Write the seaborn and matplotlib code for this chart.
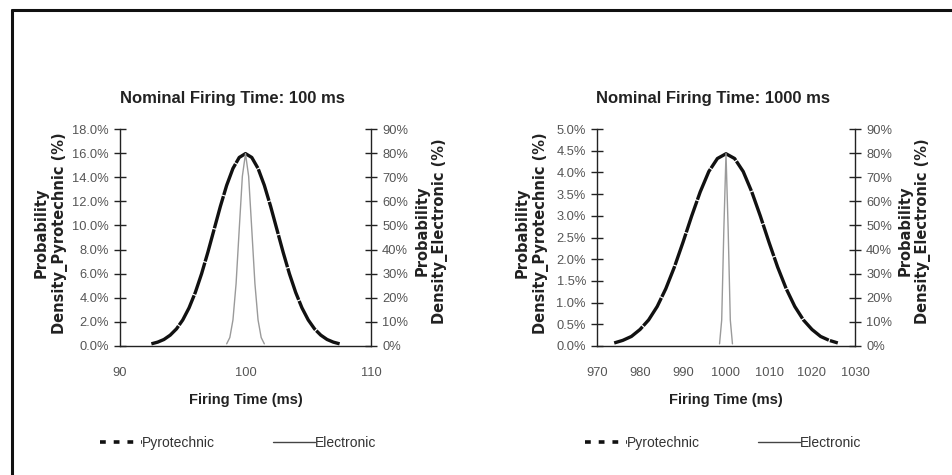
import matplotlib
matplotlib.use("Agg")
import matplotlib.pyplot as plt
from matplotlib.lines import Line2D
from matplotlib.ticker import FuncFormatter, FixedLocator
import seaborn as sns

# ---- data: probability density (%) versus firing time (ms) ----
pyro_100_ms = [92.5, 93.0, 93.5, 94.0, 94.5, 95.0, 95.5, 96.0, 96.5, 97.0, 97.5,
               98.0, 98.5, 99.0, 99.5, 100.0, 100.5, 101.0, 101.5, 102.0, 102.5,
               103.0, 103.5, 104.0, 104.5, 105.0, 105.5, 106.0, 106.5, 107.0, 107.5]
pyro_100_pct = [0.18, 0.32, 0.54, 0.90, 1.42, 2.16, 3.16, 4.44, 5.99, 7.77, 9.68,
                11.59, 13.33, 14.73, 15.64, 15.96, 15.64, 14.73, 13.33, 11.59, 9.68,
                7.77, 5.99, 4.44, 3.16, 2.16, 1.42, 0.90, 0.54, 0.32, 0.18]
elec_100_ms = [98.5, 98.75, 99.0, 99.25, 99.5, 99.75, 100.0,
               100.25, 100.5, 100.75, 101.0, 101.25, 101.5]
elec_100_pct = [0.9, 3.5, 10.8, 25.9, 48.4, 70.4, 79.8,
                70.4, 48.4, 25.9, 10.8, 3.5, 0.9]

pyro_1000_ms = [974, 976, 978, 980, 982, 984, 986, 988, 990, 992, 994, 996, 998,
                1000, 1002, 1004, 1006, 1008, 1010, 1012, 1014, 1016, 1018, 1020,
                1022, 1024, 1026]
pyro_1000_pct = [0.07, 0.13, 0.22, 0.38, 0.60, 0.91, 1.32, 1.82, 2.39, 2.99, 3.55,
                 4.02, 4.32, 4.43, 4.32, 4.02, 3.55, 2.99, 2.39, 1.82, 1.32, 0.91,
                 0.60, 0.38, 0.22, 0.13, 0.07]
elec_1000_ms = [998.5, 999.0, 999.5, 1000.0, 1000.5, 1001.0, 1001.5]
elec_1000_pct = [0.9, 10.8, 48.4, 79.8, 48.4, 10.8, 0.9]

titles = ["Nominal Firing Time: 100 ms", "Nominal Firing Time: 1000 ms"]
x_ticks = [[90, 100, 110], [970, 980, 990, 1000, 1010, 1020, 1030]]
pyro_ticks = [[0, 2, 4, 6, 8, 10, 12, 14, 16, 18],
              [0, 0.5, 1.0, 1.5, 2.0, 2.5, 3.0, 3.5, 4.0, 4.5, 5.0]]
elec_ticks = [0, 10, 20, 30, 40, 50, 60, 70, 80, 90]
series_names = ["Pyrotechnic", "Electronic"]

# ---- styling ----
sns.set_style("white")
plt.rcParams["font.family"] = ["Liberation Sans Narrow", "Liberation Sans", "DejaVu Sans"]

NARROW = ["Liberation Sans Narrow", "Liberation Sans", "DejaVu Sans"]
TICK_GREY = "#555555"
PYRO_COLOR = "#111111"
ELEC_COLOR = "#9a9a9a"

fig = plt.figure(figsize=(9.52, 4.75), dpi=100)

axes_boxes = [
    [120 / 952, 1 - 346 / 475, 251 / 952, 217 / 475],
    [597 / 952, 1 - 346 / 475, 258 / 952, 217 / 475],
]
title_x = [232 / 952, 713 / 952]
left_label_x = [-0.275, -0.252]
right_label_x = [1.24, 1.23]
legend_x = [0.47, 0.49]

panels = [
    (pyro_100_ms, pyro_100_pct, elec_100_ms, elec_100_pct),
    (pyro_1000_ms, pyro_1000_pct, elec_1000_ms, elec_1000_pct),
]


def style_axis(ax):
    ax.tick_params(axis="both", which="major", direction="inout", length=8,
                   width=1.0, color="#222222", labelcolor=TICK_GREY,
                   labelsize=9.3)
    for lab in ax.get_xticklabels() + ax.get_yticklabels():
        lab.set_family(NARROW)


for i, (px, py, ex, ey) in enumerate(panels):
    ax = fig.add_axes(axes_boxes[i])
    ax2 = ax.twinx()

    sns.lineplot(x=px, y=py, ax=ax, color=PYRO_COLOR, linewidth=2.4,
                 linestyle=(0, (10, 0.35)), sort=False, zorder=3)
    sns.lineplot(x=ex, y=ey, ax=ax2, color=ELEC_COLOR, linewidth=1.0,
                 sort=False, zorder=2)

    ax.set_xlim(x_ticks[i][0], x_ticks[i][-1])
    ax.set_ylim(pyro_ticks[i][0], pyro_ticks[i][-1])
    ax2.set_ylim(elec_ticks[0], elec_ticks[-1])
    ax.xaxis.set_major_locator(FixedLocator(x_ticks[i]))
    ax.yaxis.set_major_locator(FixedLocator(pyro_ticks[i]))
    ax2.yaxis.set_major_locator(FixedLocator(elec_ticks))
    ax.yaxis.set_major_formatter(FuncFormatter(lambda v, p: f"{v:.1f}%"))
    ax2.yaxis.set_major_formatter(FuncFormatter(lambda v, p: f"{v:.0f}%"))
    ax.xaxis.set_major_formatter(FuncFormatter(lambda v, p: f"{v:.0f}"))

    for a in (ax, ax2):
        a.set_facecolor("none")
        a.spines["top"].set_visible(False)
        for s in ("left", "right", "bottom"):
            a.spines[s].set_color("#222222")
            a.spines[s].set_linewidth(1.0)
        a.grid(False)
    ax.spines["right"].set_visible(False)
    ax2.spines["left"].set_visible(False)
    ax2.spines["bottom"].set_visible(False)

    style_axis(ax)
    style_axis(ax2)
    ax.tick_params(axis="x", pad=11)
    ax.tick_params(axis="y", pad=4)
    ax2.tick_params(axis="y", pad=4)

    ax.set_xlabel("Firing Time (ms)", fontsize=10.5, fontweight="bold",
                  color="#222222", family=NARROW)
    ax.xaxis.set_label_coords(0.5, -0.25)
    ax.xaxis.label.set_va("center")

    ax.set_ylabel("Probability\nDensity_Pyrotechnic (%)", fontsize=10.5,
                  fontweight="bold", color="#222222", family="DejaVu Sans",
                  linespacing=1.25)
    ax.yaxis.set_label_coords(left_label_x[i], 0.52)
    ax.yaxis.label.set_va("center")

    ax2.set_ylabel("Probability\nDensity_Electronic (%)", fontsize=10.5,
                   fontweight="bold", color="#222222", family="DejaVu Sans",
                   rotation=90, linespacing=1.25)
    ax2.yaxis.set_label_coords(right_label_x[i], 0.53)
    ax2.yaxis.label.set_va("center")

    fig.text(title_x[i], 1 - 98 / 475, titles[i], ha="center", va="center",
             fontsize=12, fontweight="bold", color="#222222", family=NARROW)

    handles = [
        Line2D([], [], color=PYRO_COLOR, linewidth=2.6, linestyle=(0, (1.6, 2.2))),
        Line2D([], [], color="#444444", linewidth=1.0),
    ]
    leg = ax.legend(handles, series_names, loc="center", ncol=2,
                    bbox_to_anchor=(legend_x[i], -(443 - 346) / 217),
                    frameon=False, handlelength=3.0, handletextpad=0.0,
                    columnspacing=4.2, prop={"family": NARROW, "size": 10})
    for t in leg.get_texts():
        t.set_color("#333333")

# outer frame: top and left edges
fig.add_artist(Line2D([12 / 952, 12 / 952], [0, 1 - 10 / 475],
                      transform=fig.transFigure, color="#111111", linewidth=2.2))
fig.add_artist(Line2D([12 / 952, 1.0], [1 - 10 / 475, 1 - 10 / 475],
                      transform=fig.transFigure, color="#111111", linewidth=2.2))

fig.savefig("out.png", dpi=100, facecolor="white")
